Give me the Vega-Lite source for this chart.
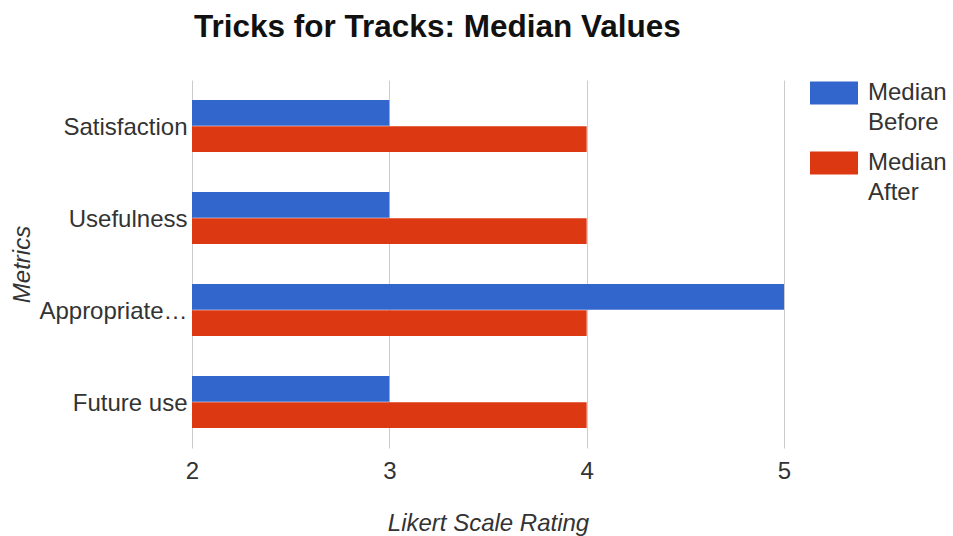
{
  "$schema": "https://vega.github.io/schema/vega-lite/v6.json",
  "width": 592,
  "height": 368,
  "autosize": {"type": "none"},
  "padding": {"left": 192, "top": 80, "right": 177, "bottom": 88},
  "background": "white",
  "config": {
    "font": "Liberation Sans",
    "view": {"stroke": null}
  },
  "title": {
    "text": "Tricks for Tracks: Median Values",
    "anchor": "start",
    "frame": "group",
    "font": "Liberation Sans",
    "fontSize": 31.5,
    "fontWeight": "bold",
    "color": "#111111",
    "baseline": "alphabetic",
    "offset": 1,
    "dx": 2
  },
  "data": {
    "values": [
      {"metric": "Satisfaction", "series": "Median Before", "value": 3},
      {"metric": "Satisfaction", "series": "Median After", "value": 4},
      {"metric": "Usefulness", "series": "Median Before", "value": 3},
      {"metric": "Usefulness", "series": "Median After", "value": 4},
      {"metric": "Appropriateness", "series": "Median Before", "value": 5},
      {"metric": "Appropriateness", "series": "Median After", "value": 4},
      {"metric": "Future use", "series": "Median Before", "value": 3},
      {"metric": "Future use", "series": "Median After", "value": 4}
    ]
  },
  "mark": {"type": "bar"},
  "encoding": {
    "y": {
      "field": "metric",
      "type": "nominal",
      "sort": ["Satisfaction", "Usefulness", "Appropriateness", "Future use"],
      "scale": {"paddingInner": 0.4348, "paddingOuter": 0.2174},
      "axis": {
        "title": "Metrics",
        "titleFont": "Liberation Sans",
        "titleFontSize": 24,
        "titleFontStyle": "italic",
        "titleFontWeight": "normal",
        "titleColor": "#333333",
        "titleX": -170,
        "titleBaseline": "middle",
        "titleAlign": "center",
        "labelFont": "Liberation Sans",
        "labelFontSize": 24,
        "labelColor": "#333333",
        "labelLimit": 150,
        "labelPadding": 5,
        "labelOffset": 2,
        "ticks": false,
        "domain": false,
        "grid": false
      }
    },
    "yOffset": {
      "field": "series",
      "type": "nominal",
      "sort": ["Median Before", "Median After"],
      "scale": {"paddingInner": 0.02}
    },
    "x": {
      "field": "value",
      "type": "quantitative",
      "scale": {"domain": [2, 5], "zero": false, "nice": false},
      "axis": {
        "title": "Likert Scale Rating",
        "titleFont": "Liberation Sans",
        "titleFontSize": 24,
        "titleFontStyle": "italic",
        "titleFontWeight": "normal",
        "titleColor": "#333333",
        "titlePadding": 28,
        "values": [2, 3, 4, 5],
        "format": "d",
        "labelFont": "Liberation Sans",
        "labelFontSize": 24,
        "labelColor": "#333333",
        "labelPadding": 11,
        "labelFlush": false,
        "ticks": false,
        "domain": false,
        "grid": true,
        "gridColor": "#cccccc",
        "gridWidth": 1
      }
    },
    "x2": {"datum": 2},
    "color": {
      "field": "series",
      "type": "nominal",
      "scale": {"domain": ["Median Before", "Median After"], "range": ["#3366cc", "#dc3912"]},
      "legend": {
        "title": null,
        "orient": "none",
        "legendX": 618,
        "legendY": -11,
        "padding": 0,
        "symbolType": "M-1,-0.48H1V0.48H-1Z",
        "symbolSize": 2304,
        "symbolStrokeWidth": 0,
        "labelFont": "Liberation Sans",
        "labelFontSize": 24,
        "labelColor": "#333333",
        "labelExpr": "split(datum.label, ' ')",
        "labelOffset": 10,
        "labelLimit": 200,
        "rowPadding": 4,
        "encode": {
          "labels": {"update": {"lineHeight": {"value": 30}}}
        }
      }
    }
  }
}
